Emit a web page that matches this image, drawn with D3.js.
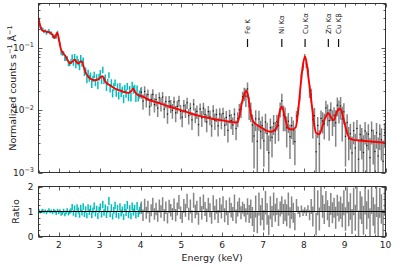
<!DOCTYPE html>
<html><head><meta charset="utf-8">
<script src="https://cdn.jsdelivr.net/npm/d3@7"></script>
<style>body{margin:0;background:#fff}svg{display:block}text{font-family:"DejaVu Sans",sans-serif;fill:#222}</style>
</head><body><svg id="c" width="399" height="266"></svg>
<script>
// Model (folded) curve knots: energy (keV) and normalized counts
const modelE = [1.50,1.53,1.56,1.60,1.70,1.80,1.85,1.89,1.93,1.96,2.00,2.05,2.10,2.15,2.22,2.27,2.33,2.39,2.44,2.48,2.53,2.57,2.62,2.66,2.72,2.80,2.88,2.96,3.03,3.07,3.12,3.17,3.25,3.33,3.45,3.58,3.70,3.77,3.82,3.87,3.91,4.07,4.25,4.48,4.72,4.97,5.21,5.46,5.70,5.95,6.19,6.37,6.43,6.48,6.54,6.59,6.63,6.66,6.71,6.76,6.85,6.95,7.05,7.20,7.30,7.35,7.39,7.46,7.54,7.62,7.70,7.80,7.86,7.91,7.97,8.03,8.08,8.11,8.16,8.20,8.25,8.30,8.38,8.44,8.52,8.60,8.66,8.73,8.81,8.89,8.97,9.05,9.13,9.25,9.50,10.00];
const modelV = [0.30,0.24,0.205,0.188,0.180,0.172,0.158,0.142,0.160,0.174,0.135,0.094,0.082,0.075,0.062,0.056,0.060,0.064,0.058,0.056,0.060,0.059,0.046,0.039,0.034,0.031,0.030,0.031,0.034,0.035,0.030,0.027,0.025,0.023,0.021,0.0196,0.0189,0.0200,0.0220,0.0192,0.0180,0.0163,0.0142,0.0128,0.0113,0.0101,0.0089,0.0080,0.0074,0.0069,0.0065,0.0063,0.0085,0.0128,0.0175,0.0203,0.0175,0.0128,0.0082,0.0066,0.0058,0.0053,0.0048,0.0045,0.0049,0.0056,0.0083,0.0113,0.0074,0.0051,0.0049,0.0053,0.0095,0.0210,0.0490,0.0720,0.0500,0.0340,0.0190,0.0113,0.0060,0.0043,0.0041,0.0051,0.0074,0.0089,0.0077,0.0069,0.0094,0.0106,0.0074,0.0045,0.0035,0.0033,0.0032,0.0030];

// Low-energy spectrum (cyan): bins from 1.5 keV, width 0.03 keV; data/model ratio and error
const cyanStart = 1.5, cyanStep = 0.03;
const cyanRatio = [
1.04,0.97,1.02,1.06,0.98,1.03,0.95,1.01,1.07,0.99,
1.02,0.96,1.04,1.00,0.93,1.05,0.97,1.02,0.90,0.94,
1.03,0.88,0.96,1.05,0.92,0.99,1.04,1.18,0.94,1.12,
0.88,1.16,1.04,0.86,1.14,0.96,1.20,0.90,1.08,0.84,
1.16,0.98,1.12,0.85,1.04,1.22,0.92,1.10,0.82,1.06,
1.18,0.88,1.28,0.96,1.14,0.86,1.08,1.42,0.90,1.15,
0.80,1.04,1.24,0.88,1.12,0.83,1.18,0.94,1.06,0.78,
1.15,0.96,1.26,0.86,1.10,0.82,1.20,0.98,1.12,0.85,
1.22,0.92,1.04,1.16];
const cyanErr = [
0.05,0.05,0.06,0.05,0.06,0.05,0.06,0.05,0.06,0.06,
0.06,0.06,0.07,0.06,0.07,0.06,0.07,0.07,0.07,0.07,
0.08,0.07,0.08,0.08,0.08,0.09,0.09,0.12,0.11,0.12,
0.11,0.13,0.12,0.11,0.13,0.12,0.13,0.12,0.13,0.11,
0.13,0.12,0.13,0.12,0.12,0.14,0.12,0.13,0.12,0.13,
0.14,0.12,0.15,0.13,0.14,0.12,0.13,0.16,0.13,0.14,
0.12,0.14,0.15,0.13,0.14,0.12,0.15,0.14,0.14,0.12,
0.15,0.14,0.16,0.13,0.15,0.13,0.16,0.14,0.15,0.13,
0.16,0.14,0.15,0.16];

// High-energy spectrum (grey): bins from 4.0 keV, width 0.04 keV
const greyStart = 4.0, greyStep = 0.04;
const greyRatio = [
1.15,0.85,1.25,0.95,1.18,0.78,1.05,1.28,0.90,1.10,
0.82,1.22,1.00,1.30,0.85,1.15,0.74,1.20,1.05,0.90,
1.25,0.85,1.10,1.38,0.95,0.78,1.22,1.05,1.42,0.90,
1.20,0.80,1.45,1.00,1.15,0.72,1.30,0.95,1.38,1.10,
0.85,1.26,1.05,0.76,1.34,0.95,1.20,0.80,1.25,1.00,
1.30,0.85,1.15,0.72,1.25,1.05,0.90,1.35,0.80,1.10,
1.25,0.95,1.15,1.05,0.85,1.20,0.90,1.10,0.80,0.60,
1.20,0.55,1.30,0.85,1.10,0.65,1.35,0.90,0.45,1.15,
0.80,1.30,0.95,1.20,0.75,1.10,1.25,0.90,1.05,0.85,
1.30,0.75,1.15,0.95,0.60,1.25,1.05,0.90,1.10,0.95,
1.05,0.95,1.10,0.85,1.20,0.80,1.45,0.50,1.35,0.70,
1.55,1.20,0.90,1.40,1.05,0.80,1.30,0.95,1.15,0.75,
1.25,1.00,1.15,0.85,1.35,0.70,1.45,0.90,1.20,0.60,
1.40,0.75,1.55,0.50,1.25,1.05,0.65,1.45,0.85,1.30,
0.55,1.50,1.00,0.70,1.40,0.60,1.35,1.10,0.50,1.45];
const greyErr = [
0.25,0.23,0.26,0.24,0.25,0.22,0.24,0.27,0.23,0.25,
0.23,0.26,0.25,0.27,0.24,0.25,0.22,0.27,0.25,0.24,
0.27,0.25,0.26,0.28,0.25,0.24,0.28,0.26,0.29,0.25,
0.28,0.25,0.30,0.27,0.28,0.25,0.29,0.27,0.30,0.28,
0.27,0.29,0.28,0.25,0.31,0.28,0.29,0.26,0.30,0.28,
0.31,0.28,0.30,0.26,0.31,0.29,0.28,0.33,0.28,0.30,
0.30,0.26,0.24,0.25,0.28,0.33,0.36,0.38,0.38,0.42,
0.44,0.42,0.46,0.41,0.44,0.40,0.47,0.43,0.40,0.46,
0.42,0.46,0.36,0.34,0.33,0.30,0.36,0.40,0.43,0.44,
0.46,0.42,0.45,0.40,0.35,0.25,0.15,0.13,0.14,0.13,
0.12,0.13,0.15,0.20,0.30,0.40,0.48,0.45,0.50,0.46,
0.52,0.45,0.40,0.42,0.40,0.42,0.44,0.42,0.40,0.44,
0.42,0.40,0.45,0.48,0.50,0.47,0.52,0.49,0.53,0.50,
0.55,0.52,0.57,0.54,0.56,0.55,0.58,0.57,0.56,0.58,
0.58,0.60,0.57,0.59,0.62,0.58,0.60,0.59,0.58,0.62];

const lineNames = ["Fe K","Ni Kα","Cu Kα","Zn Kα","Cu Kβ"];
const lineE = [6.62,7.46,8.03,8.60,8.85];
const xTicks = [2,3,4,5,6,7,8,9,10];
const logTicks = [1e-3,1e-2,1e-1];
const logTickExp = ["-3","-2","-1"];
const ratioTicks = [0,1,2];

const svg = d3.select("#c");
const L = 38.5, R = 385.5, T1 = 3.5, B1 = 172.5, T2 = 186.5, B2 = 236.5;
const x = d3.scaleLinear().domain([1.5,10]).range([L,R]);
const y = d3.scaleLog().domain([1e-3,0.51]).range([B1,T1]);
const yr = d3.scaleLinear().domain([0,2]).range([B2,T2]);
const logModel = d3.scaleLinear().domain(modelE).range(modelV.map(v=>Math.log10(v))).clamp(true);
const modelAt = e => Math.pow(10, logModel(e));

function bins(start, step, ratio, err){
  return ratio.map((r,i)=>{const e = start + step*(i+0.5); const m = modelAt(e);
    return {e, r, er: err[i], m};});
}
const cyan = bins(cyanStart, cyanStep, cyanRatio, cyanErr);
const grey = bins(greyStart, greyStep, greyRatio, greyErr);

const defs = svg.append("defs");
defs.append("clipPath").attr("id","c1").append("rect").attr("x",L).attr("y",T1).attr("width",R-L).attr("height",B1-T1);
defs.append("clipPath").attr("id","c2").append("rect").attr("x",L).attr("y",T2).attr("width",R-L).attr("height",B2-T2);

// ---- top panel
const g1 = svg.append("g").attr("clip-path","url(#c1)");
function topBars(data, color, w){
  g1.append("g").selectAll("line").data(data).join("line")
    .attr("x1",d=>x(d.e)).attr("x2",d=>x(d.e))
    .attr("y1",d=>y(Math.max((d.r-d.er)*d.m, 2e-4)))
    .attr("y2",d=>y((d.r+d.er)*d.m))
    .attr("stroke",color).attr("stroke-width",w);
}
topBars(cyan, "#00bfbf", 1.5);
topBars(grey, "#858585", 1.5);
g1.append("g").selectAll("rect").data(grey).join("rect")
  .attr("x",d=>x(d.e)-0.6).attr("y",d=>y(d.r*d.m)-0.6).attr("width",1.2).attr("height",1.2).attr("fill","#111");
const mline = d3.line().x((d,i)=>x(modelE[i])).y(d=>y(d)).curve(d3.curveMonotoneX);
g1.append("path").attr("d",mline(modelV)).attr("fill","none").attr("stroke","#ff0000").attr("stroke-width",1.9);

// ---- ratio panel
const g2 = svg.append("g").attr("clip-path","url(#c2)");
function ratioBars(data, color, w){
  g2.append("g").selectAll("line").data(data).join("line")
    .attr("x1",d=>x(d.e)).attr("x2",d=>x(d.e))
    .attr("y1",d=>yr(d.r-d.er)).attr("y2",d=>yr(d.r+d.er))
    .attr("stroke",color).attr("stroke-width",w);
}
ratioBars(cyan, "#00bfbf", 1.5);
ratioBars(grey, "#858585", 1.5);
g2.append("line").attr("x1",L).attr("x2",R).attr("y1",yr(1)).attr("y2",yr(1)).attr("stroke","#000").attr("stroke-width",1);

// ---- frames & ticks
const tickCol = "#333";
const minorX = d3.range(1.5, 10.001, 0.25);
const isMajorX = v => xTicks.includes(Math.round(v*100)/100);
function xTickMarks(yPos, dir){
  svg.append("g").selectAll("line").data(minorX).join("line")
    .attr("x1",d=>Math.round(x(d))+0.5).attr("x2",d=>Math.round(x(d))+0.5)
    .attr("y1",yPos).attr("y2",d=>yPos+dir*(isMajorX(d)?4:2))
    .attr("stroke",tickCol).attr("stroke-width",0.8);
}
xTickMarks(B1,-1); xTickMarks(T1,1); xTickMarks(B2,-1); xTickMarks(T2,1);

const logMinor = [];
[1e-3,1e-2,1e-1].forEach(dec=>{for(let k=1;k<10;k++){const v=dec*k; if(v<=0.51) logMinor.push(v);}});
[L,R].forEach((xp,si)=>{
  const dir = si===0?1:-1;
  svg.append("g").selectAll("line").data(logMinor).join("line")
    .attr("x1",xp).attr("x2",d=>xp+dir*(logTicks.some(t=>Math.abs(t-d)/d<1e-6)?4:2))
    .attr("y1",d=>Math.round(y(d))+0.5).attr("y2",d=>Math.round(y(d))+0.5)
    .attr("stroke",tickCol).attr("stroke-width",0.8);
});
const ratioMinor = d3.range(0,2.001,0.25);
[L,R].forEach((xp,si)=>{
  const dir = si===0?1:-1;
  svg.append("g").selectAll("line").data(ratioMinor).join("line")
    .attr("x1",xp).attr("x2",d=>xp+dir*(ratioTicks.includes(d)?4:2))
    .attr("y1",d=>Math.round(yr(d))+0.5).attr("y2",d=>Math.round(yr(d))+0.5)
    .attr("stroke",tickCol).attr("stroke-width",0.8);
});
svg.append("rect").attr("x",L).attr("y",T1).attr("width",R-L).attr("height",B1-T1).attr("fill","none").attr("stroke","#333").attr("stroke-width",1);
svg.append("rect").attr("x",L).attr("y",T2).attr("width",R-L).attr("height",B2-T2).attr("fill","none").attr("stroke","#333").attr("stroke-width",1);

// ---- tick labels
svg.append("g").selectAll("text").data(xTicks).join("text")
  .attr("x",d=>x(d)).attr("y",247.5).attr("text-anchor","middle").attr("font-size",9).text(d=>d);
svg.append("g").selectAll("text").data(ratioTicks).join("text")
  .attr("x",33.5).attr("y",d=>yr(d)+3.3).attr("text-anchor","end").attr("font-size",9).text(d=>d);
const lt = svg.append("g").selectAll("text").data(logTicks).join("text")
  .attr("x",34).attr("y",d=>y(d)+3.3).attr("text-anchor","end").attr("font-size",9);
lt.append("tspan").text("10");
lt.append("tspan").attr("dy",-3.5).attr("font-size",6.5).text((d,i)=>logTickExp[i].replace("-","\u2212"));

// ---- axis labels
svg.append("text").attr("x",(L+R)/2).attr("y",260.5).attr("text-anchor","middle").attr("font-size",9.5).text("Energy (keV)");
const yl = svg.append("text").attr("transform","translate(15.5,88) rotate(-90)").attr("text-anchor","middle").attr("font-size",9.5);
yl.append("tspan").text("Normalized counts s");
yl.append("tspan").attr("dy",-3.5).attr("font-size",6.5).text("\u22121");
yl.append("tspan").attr("dy",3.5).text(" Å");
yl.append("tspan").attr("dy",-3.5).attr("font-size",6.5).text("\u22121");
svg.append("text").attr("transform",`translate(19,${(T2+B2)/2}) rotate(-90)`).attr("text-anchor","middle").attr("font-size",9.5).text("Ratio");

// ---- line markers
const lm = svg.append("g");
lm.selectAll("line").data(lineE).join("line")
  .attr("x1",d=>x(d)).attr("x2",d=>x(d)).attr("y1",39).attr("y2",47)
  .attr("stroke","#111").attr("stroke-width",1.2);
lm.selectAll("text").data(lineNames).join("text")
  .attr("transform",(d,i)=>`translate(${x(lineE[i])+2.5},34) rotate(-90)`)
  .attr("font-size",7).attr("text-anchor","start").text(d=>d);
</script></body></html>
